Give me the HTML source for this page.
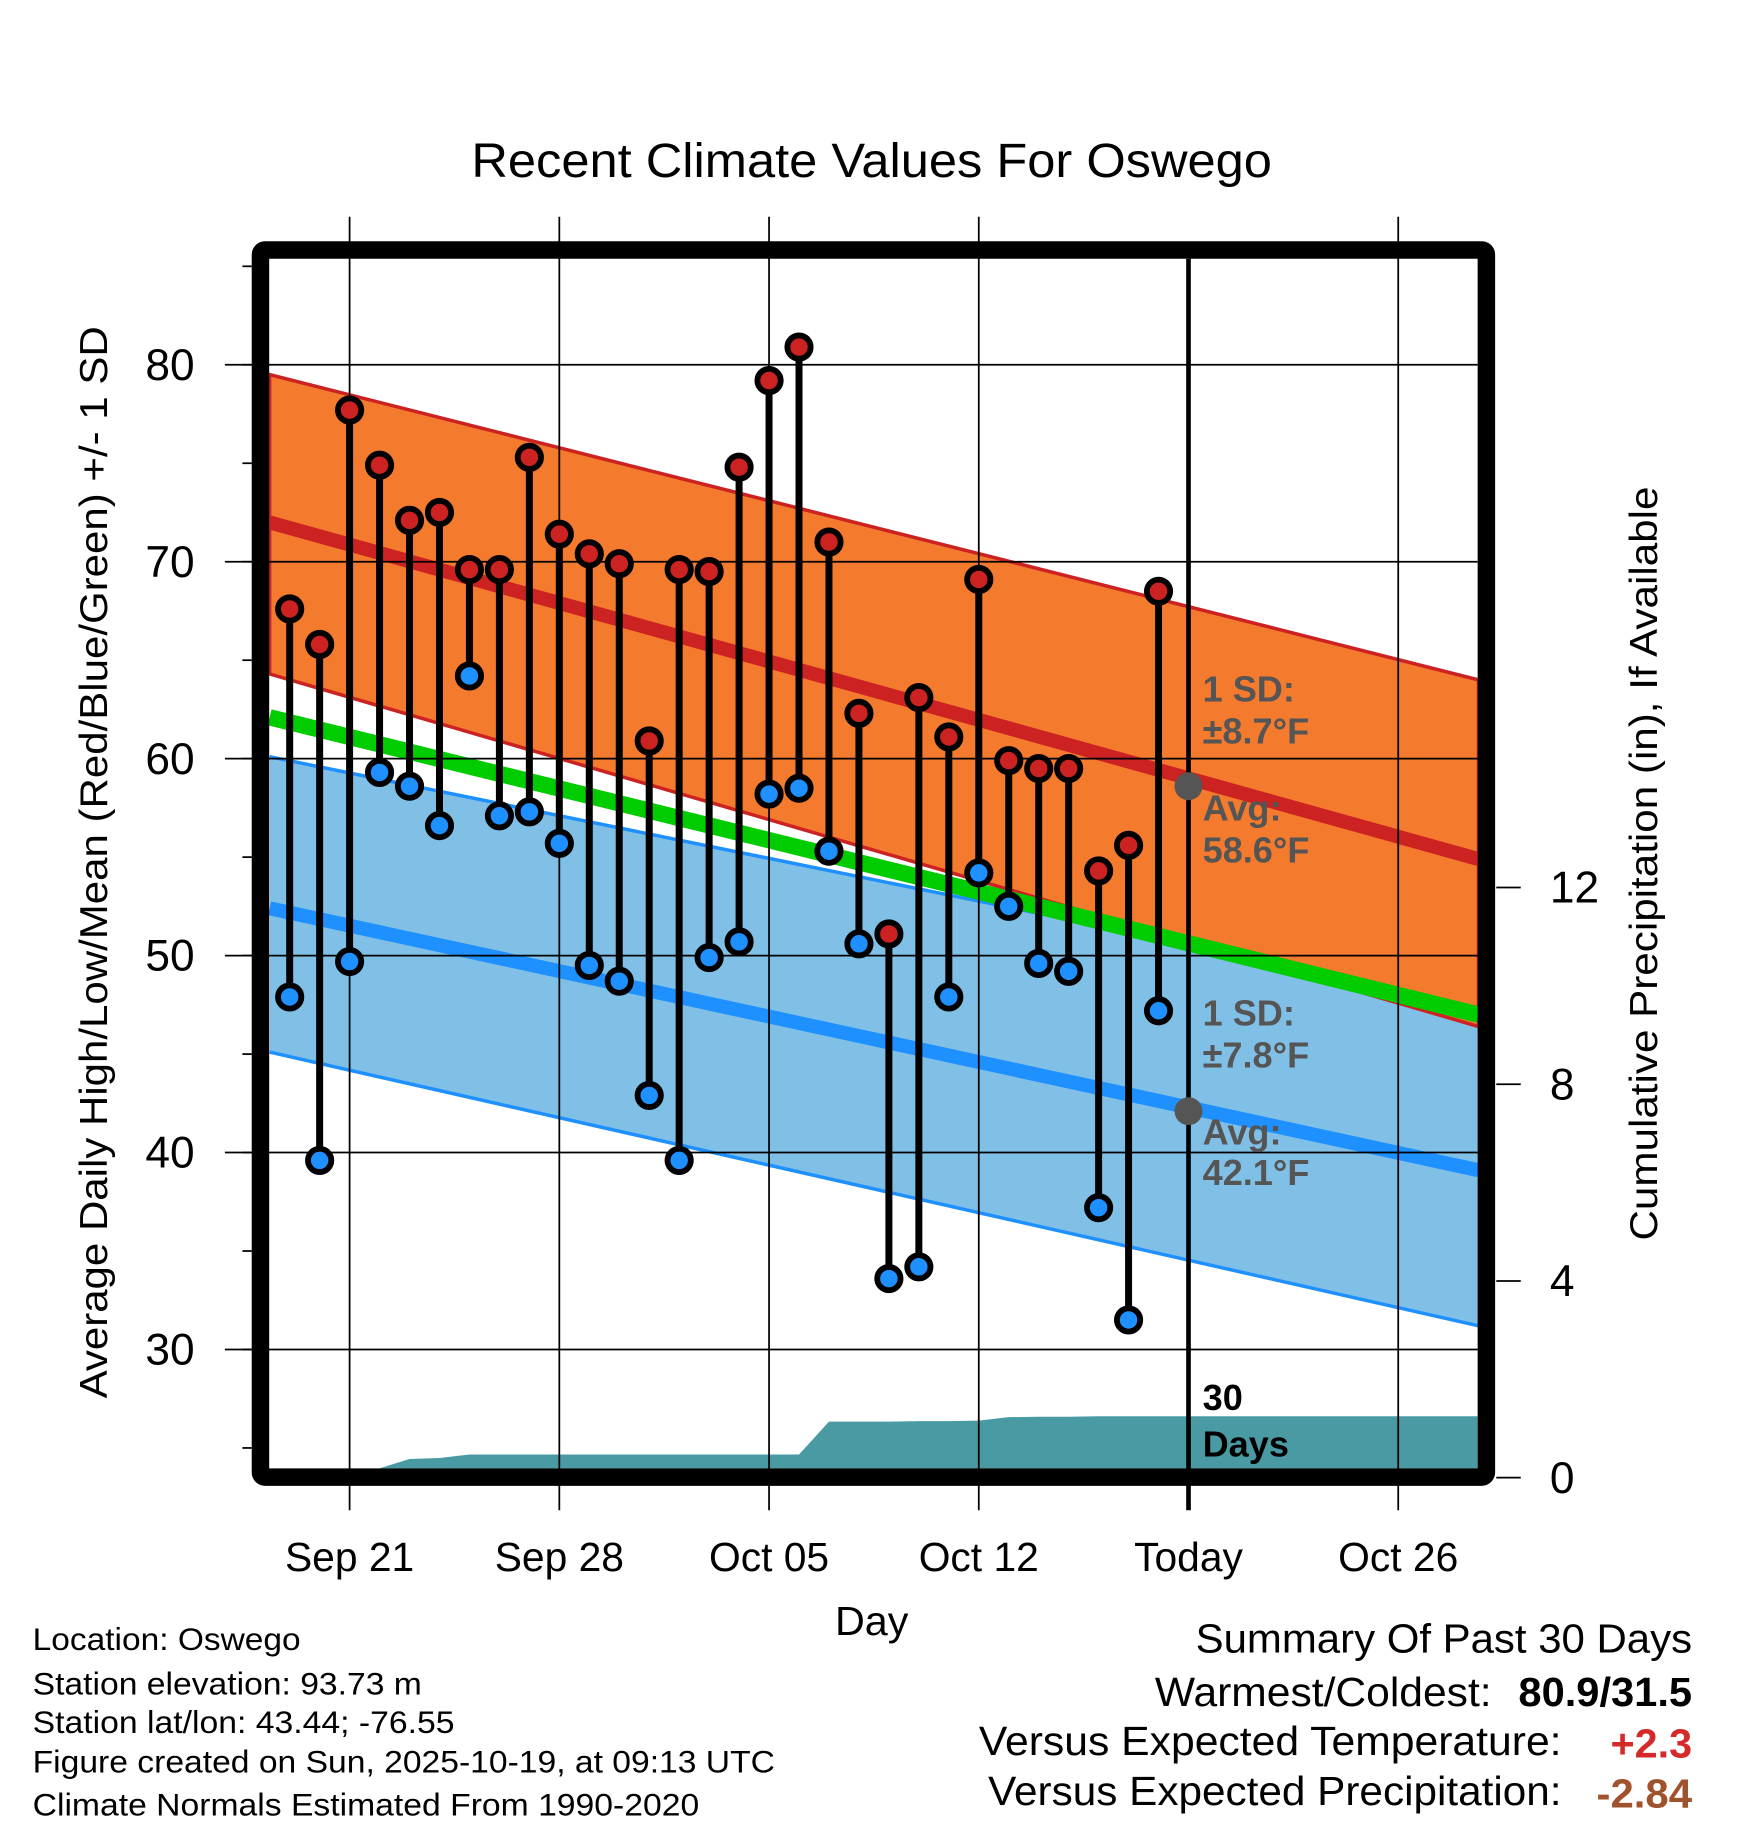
<!DOCTYPE html>
<html><head><meta charset="utf-8"><style>
html,body{margin:0;padding:0;background:#fff;}
svg{display:block;font-family:"Liberation Sans",Arial,sans-serif;}
</style></head><body>
<svg id="chart" width="1748" height="1828" viewBox="0 0 1500 1568.6" xmlns="http://www.w3.org/2000/svg">
<text x="748" y="152" font-size="41" text-anchor="middle" textLength="687" lengthAdjust="spacingAndGlyphs">Recent Climate Values For Oswego</text>
<g id="bands"></g>
<g id="grid"></g>
<g id="marks"></g>
<g id="frame"></g>
<g id="labels"></g>
<text transform="translate(92,740) rotate(-90)" font-size="33" text-anchor="middle" textLength="920" lengthAdjust="spacingAndGlyphs">Average Daily High/Low/Mean (Red/Blue/Green) +/- 1 SD</text>
<text transform="translate(1422,741) rotate(-90)" font-size="33" text-anchor="middle" textLength="647" lengthAdjust="spacingAndGlyphs">Cumulative Precipitation (in), If Available</text>
<text x="748" y="1403" font-size="35" text-anchor="middle" textLength="63" lengthAdjust="spacingAndGlyphs">Day</text>
<g font-size="27">
<text x="28" y="1416" textLength="230" lengthAdjust="spacingAndGlyphs">Location: Oswego</text>
<text x="28" y="1454" textLength="334" lengthAdjust="spacingAndGlyphs">Station elevation: 93.73 m</text>
<text x="28" y="1487" textLength="362" lengthAdjust="spacingAndGlyphs">Station lat/lon: 43.44; -76.55</text>
<text x="28" y="1521" textLength="637" lengthAdjust="spacingAndGlyphs">Figure created on Sun, 2025-10-19, at 09:13 UTC</text>
<text x="28" y="1558" textLength="572" lengthAdjust="spacingAndGlyphs">Climate Normals Estimated From 1990-2020</text>
</g>
<g font-size="35">
<text x="1026" y="1418" textLength="426" lengthAdjust="spacingAndGlyphs">Summary Of Past 30 Days</text>
<text x="991" y="1464" textLength="289" lengthAdjust="spacingAndGlyphs">Warmest/Coldest:</text>
<text x="1303" y="1464" font-weight="bold" textLength="149" lengthAdjust="spacingAndGlyphs">80.9/31.5</text>
<text x="840" y="1506" textLength="500" lengthAdjust="spacingAndGlyphs">Versus Expected Temperature:</text>
<text x="1382" y="1508" font-weight="bold" fill="#d42a2a" textLength="70" lengthAdjust="spacingAndGlyphs">+2.3</text>
<text x="848" y="1549" textLength="492" lengthAdjust="spacingAndGlyphs">Versus Expected Precipitation:</text>
<text x="1370" y="1551" font-weight="bold" fill="#a0522d" textLength="82" lengthAdjust="spacingAndGlyphs">-2.84</text>
</g>
</svg>
<script>
// data
const highs=[67.6,65.8,77.7,74.9,72.1,72.5,69.6,69.6,75.3,71.4,70.4,69.9,60.9,69.6,69.5,74.8,79.2,80.9,71.0,62.3,51.1,63.1,61.1,69.1,59.9,59.5,59.5,54.3,55.6,68.5];
const lows=[47.9,39.6,49.7,59.3,58.6,56.6,64.2,57.1,57.3,55.7,49.5,48.7,42.9,39.6,49.9,50.7,58.2,58.5,55.3,50.6,33.6,34.2,47.9,54.2,52.5,49.6,49.2,37.2,31.5,47.2];
const precip=[0,0,0,0,0.38,0.4,0.47,0.47,0.47,0.47,0.47,0.47,0.47,0.47,0.47,0.47,0.47,0.47,1.14,1.14,1.14,1.15,1.15,1.16,1.23,1.24,1.24,1.25,1.25,1.25];
const normDays=[-2.67,37.68];
const highMean=[72.0,54.9];
const highUpper=[79.5,64.0];
const highLower=[64.3,46.4];
const lowMean=[52.4,39.1];
const lowUpper=[60.1,47.6];
const lowLower=[45.1,31.2];
const avgMean=[62.1,47.0];
const yTicks=[30,40,50,60,70,80];
const y2Ticks=[0,4,8,12];
const xTickDays=[0,7,14,21,28,35];
const xTickLabels=["Sep 21","Sep 28","Oct 05","Oct 12","Today","Oct 26"];
const firstDay=-2;
const todayDay=28;

const NS="http://www.w3.org/2000/svg";
const L=231,R=1268,T=222,B=1260;
const X=d=>300+d*25.71;
const Y=v=>313+(80-v)*16.9;
const P=p=>1268-p*42.2;
function mk(parent,tag,attrs){const e=document.createElementNS(NS,tag);for(const k in attrs)e.setAttribute(k,attrs[k]);document.getElementById(parent).appendChild(e);return e;}
function band(up,lo){return `M${X(normDays[0])},${Y(up[0])} L${X(normDays[1])},${Y(up[1])} L${X(normDays[1])},${Y(lo[1])} L${X(normDays[0])},${Y(lo[0])} Z`;}
function line(a){return `M${X(normDays[0])},${Y(a[0])} L${X(normDays[1])},${Y(a[1])}`;}

let e;
e=mk('bands','path',{d:band(lowUpper,lowLower),fill:'#80c0e6',stroke:'none'});

e=mk('bands','path',{d:line(lowUpper),stroke:'#1e90ff','stroke-width':3,fill:'none'});

e=mk('bands','path',{d:line(lowLower),stroke:'#1e90ff','stroke-width':3,fill:'none'});

e=mk('bands','path',{d:band(highUpper,highLower),fill:'#f47a2e',stroke:'#cc2222','stroke-width':3});

e=mk('bands','path',{d:line(avgMean),stroke:'#00cc00','stroke-width':14,fill:'none'});

e=mk('bands','path',{d:line(highMean),stroke:'#cc2222','stroke-width':12,fill:'none'});

e=mk('bands','path',{d:line(lowMean),stroke:'#1e90ff','stroke-width':12,fill:'none'});

let pd=`M${X(firstDay)},${B} `;
precip.forEach((p,i)=>{pd+=`L${X(firstDay+i)},${Math.min(P(p),B)} `;});
pd+=`L${R},${Math.min(P(precip[precip.length-1]),B)} L${R},${B} Z`;
e=mk('bands','path',{d:pd,fill:'#4a9aa3'});


yTicks.forEach(v=>{
 e=mk('grid','line',{x1:193,x2:R,y1:Y(v),y2:Y(v),stroke:'#000','stroke-width':1.5});
 
 e=mk('labels','text',{x:167,y:Y(v)+13,'font-size':38,'text-anchor':'end'});e.textContent=v;
 
});
for(let v=25;v<=85;v+=5){
 e=mk('grid','line',{x1:208,x2:216,y1:Y(v),y2:Y(v),stroke:'#000','stroke-width':1.5});
 
}
xTickDays.forEach((d,i)=>{
 e=mk('grid','line',{x1:X(d),x2:X(d),y1:d===todayDay?T:186,y2:1296,stroke:'#000','stroke-width':d===todayDay?4:1.5});
 
 e=mk('labels','text',{x:X(d),y:1348,'font-size':35,'text-anchor':'middle'});e.textContent=xTickLabels[i];
 
});
y2Ticks.forEach(p=>{
 e=mk('grid','line',{x1:1284,x2:1305,y1:P(p),y2:P(p),stroke:'#000','stroke-width':1.5});
 
 e=mk('labels','text',{x:1330,y:P(p)+13,'font-size':38,'text-anchor':'start'});e.textContent=p;
 
});

highs.forEach((h,i)=>{
 const x=X(firstDay+i);
 e=mk('marks','line',{x1:x,x2:x,y1:Y(h),y2:Y(lows[i]),stroke:'#000','stroke-width':6});
 
 e=mk('marks','circle',{cx:x,cy:Y(h),r:10,fill:'#cc2222',stroke:'#000','stroke-width':5});
 
 e=mk('marks','circle',{cx:x,cy:Y(lows[i]),r:10,fill:'#1e90ff',stroke:'#000','stroke-width':5});
 
});
e=mk('marks','circle',{cx:X(todayDay),cy:Y(58.6),r:12,fill:'#555'});

e=mk('marks','circle',{cx:X(todayDay),cy:Y(42.1),r:12,fill:'#555'});


e=mk('frame','rect',{x:223.5,y:214.5,width:1052,height:1053,fill:'none',stroke:'#000','stroke-width':15,rx:4});


const ann=[["1 SD:",602,'#555'],["±8.7°F",638,'#555'],["Avg:",704,'#555'],["58.6°F",740,'#555'],["1 SD:",880,'#555'],["±7.8°F",916,'#555'],["Avg:",982,'#555'],["42.1°F",1017,'#555'],["30",1210,'#000'],["Days",1250,'#000']];
ann.forEach(a=>{
 e=mk('labels','text',{x:1032,y:a[1],'font-size':31,'font-weight':'bold',fill:a[2]});e.textContent=a[0];
 
});
</script>
</body></html>
